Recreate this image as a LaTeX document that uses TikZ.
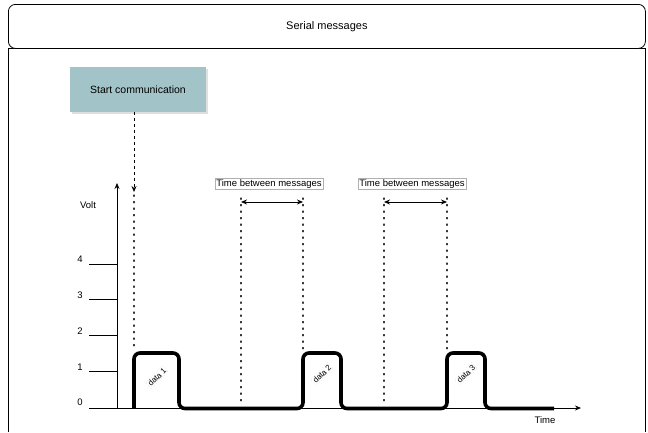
\documentclass[tikz,border=0pt]{standalone}
\usepackage{fontspec}
\setmainfont{Liberation Sans}
\usetikzlibrary{arrows.meta,shadows}
\definecolor{startfill}{HTML}{A2C4C9}
\definecolor{lblgray}{HTML}{B0B0B0}
\begin{document}
\begin{tikzpicture}[x=1pt,y=-1pt,
  txt/.style={inner sep=0pt,font=\fontsize{9.5}{11}\selectfont},
  tbm/.style={draw=lblgray,line width=0.4pt,fill=white,inner sep=1.2pt,font=\fontsize{9.5}{11}\selectfont},
  datalbl/.style={draw=lblgray,dotted,line width=0.3pt,fill=white,inner sep=1pt,rotate=45,font=\fontsize{8}{9}\selectfont},
  dotline/.style={line width=1.3pt,dash pattern=on 1.3pt off 5.2pt,line cap=round,black!80},
  signal/.style={line width=3.6pt,rounded corners=6pt},
  tip/.style={-{Stealth[length=6pt,width=5pt]}},
  dtip/.style={{Stealth[length=6pt,width=5pt]}-{Stealth[length=6pt,width=5pt]}},
]
\useasboundingbox (0,0) rectangle (648,432);
% frame
\draw[line width=0.8pt] (8,432) -- (8,48) -- (645,48) -- (645,432);
\node[draw,fill=white,line width=0.8pt,rounded corners=7pt,minimum width=637pt,minimum height=44pt,anchor=north west,inner sep=0pt,font=\fontsize{11}{13}\selectfont] (title) at (8,4) {Serial messages};
% start box
\node[fill=startfill,minimum width=136pt,minimum height=45pt,inner sep=0pt,
  drop shadow={opacity=0.25,shadow xshift=2pt,shadow yshift=-2pt},
  font=\fontsize{10.5}{12}\selectfont] (start) at (138,89.5) {Start communication};
\coordinate (sc) at (134,192);
\draw[dashed,line width=0.7pt,tip] (start.south -| sc) -- (sc);
% axes
\coordinate (o) at (117,408);
\coordinate (ytop) at (117,183);
\coordinate (xl) at (89,408);
\coordinate (xr) at (581,408);
\draw[line width=0.8pt,tip] (o) -- (ytop);
\draw[line width=0.8pt,tip] (xl) -- (xr);
\foreach \yy/\n in {264/4,299/3,335/2,371/1}{
  \coordinate (t\n) at (89,\yy);
  \draw[line width=0.8pt] (t\n) -- (t\n -| o);
}
\node[txt] (l4) at (80,259) {4};
\node[txt] (l3) at (80,295) {3};
\node[txt] (l2) at (80,331) {2};
\node[txt] (l1) at (80,367) {1};
\node[txt] (l0) at (80,402) {0};
\node[txt] (volt) at (88,205) {Volt};
\node[txt] (time) at (545,420) {Time};
% dotted guides
\draw[dotline] (134,195) -- (134,350);
\draw[dotline] (241,198) -- (241,403);
\draw[dotline] (303,198) -- (303,350);
\draw[dotline] (384,198) -- (384,403);
\draw[dotline] (447,198) -- (447,350);
% time between messages
\node[tbm] (tb1) at (269,184) {Time between messages};
\node[tbm] (tb2) at (412,184) {Time between messages};
\coordinate (a1) at (241,202); \coordinate (b1) at (303,202);
\coordinate (a2) at (384,202); \coordinate (b2) at (447,202);
\draw[line width=0.9pt,dtip] (a1) -- (b1);
\draw[line width=0.9pt,dtip] (a2) -- (b2);
% signal
\draw[signal] (134,408) -- (134,353) -- (179,353) -- (179,408.5) -- (303,408.5) -- (303,353) -- (341,353) -- (341,408.5) -- (447,408.5) -- (447,353) -- (485,353) -- (485,408.5) -- (554,408.5);
\node[datalbl] (d1) at (157,377) {data 1};
\node[datalbl] (d2) at (322,374) {data 2};
\node[datalbl] (d3) at (466,374) {data 3};
\end{tikzpicture}
\end{document}
